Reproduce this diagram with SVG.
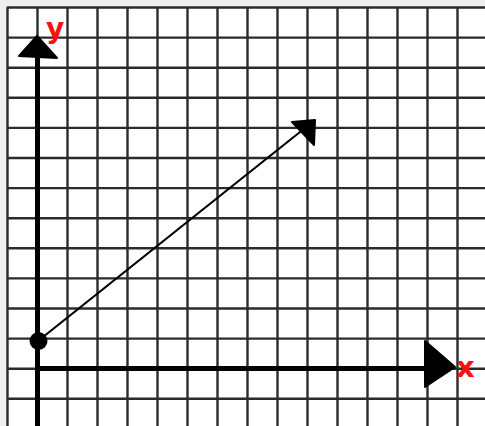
<svg xmlns="http://www.w3.org/2000/svg" width="485" height="426" viewBox="0 0 485 426">
<style>
.grid line{stroke:#2b2b2b;stroke-width:2.4}
.axis{stroke:#000;stroke-width:5;fill:none}
.head{fill:#000;stroke:#000;stroke-width:2;stroke-linejoin:round}
.lbl{font-family:"DejaVu Sans","Liberation Sans",Arial,sans-serif;font-weight:bold;fill:#ff1010}
</style>
<rect width="485" height="426" fill="#efefef"/>
<rect x="7" y="7" width="478" height="419" fill="#fff"/>
<g class="grid" id="grid">
<line x1="7.5" y1="7" x2="7.5" y2="426"/>
<line x1="37.5" y1="7" x2="37.5" y2="426"/>
<line x1="67.5" y1="7" x2="67.5" y2="426"/>
<line x1="97.5" y1="7" x2="97.5" y2="426"/>
<line x1="127.5" y1="7" x2="127.5" y2="426"/>
<line x1="157.5" y1="7" x2="157.5" y2="426"/>
<line x1="187.5" y1="7" x2="187.5" y2="426"/>
<line x1="217.5" y1="7" x2="217.5" y2="426"/>
<line x1="247.5" y1="7" x2="247.5" y2="426"/>
<line x1="277.5" y1="7" x2="277.5" y2="426"/>
<line x1="307.5" y1="7" x2="307.5" y2="426"/>
<line x1="337.5" y1="7" x2="337.5" y2="426"/>
<line x1="367.5" y1="7" x2="367.5" y2="426"/>
<line x1="397.5" y1="7" x2="397.5" y2="426"/>
<line x1="427.5" y1="7" x2="427.5" y2="426"/>
<line x1="457.5" y1="7" x2="457.5" y2="426"/>
<line x1="7" y1="7.5" x2="485" y2="7.5"/>
<line x1="7" y1="37.6" x2="485" y2="37.6"/>
<line x1="7" y1="67.7" x2="485" y2="67.7"/>
<line x1="7" y1="97.8" x2="485" y2="97.8"/>
<line x1="7" y1="127.9" x2="485" y2="127.9"/>
<line x1="7" y1="158" x2="485" y2="158"/>
<line x1="7" y1="188.1" x2="485" y2="188.1"/>
<line x1="7" y1="218.2" x2="485" y2="218.2"/>
<line x1="7" y1="248.3" x2="485" y2="248.3"/>
<line x1="7" y1="278.4" x2="485" y2="278.4"/>
<line x1="7" y1="308.5" x2="485" y2="308.5"/>
<line x1="7" y1="338.6" x2="485" y2="338.6"/>
<line x1="7" y1="368.7" x2="485" y2="368.7"/>
<line x1="7" y1="398.8" x2="485" y2="398.8"/>
</g>
<g id="y-axis">
<line class="axis" x1="37.5" y1="426" x2="37.5" y2="52"/>
<polygon class="head" points="37,36 19,56 57,58"/>
<text class="lbl" x="46" y="37.5" font-size="28">y</text>
</g>
<g id="x-axis">
<line class="axis" x1="35" y1="368.5" x2="428" y2="368.5"/>
<polygon class="head" points="425,341 425,387 455,367"/>
<text class="lbl" x="456" y="377" font-size="29">x</text>
</g>
<g id="connectors">
<line x1="38" y1="341" x2="305" y2="128" stroke="#000" stroke-width="2.2"/>
<polygon class="head" points="292,122 315,120 314,145"/>
</g>
<g id="origin-point">
<circle cx="38.5" cy="341" r="9" fill="#000"/>
</g>
</svg>
